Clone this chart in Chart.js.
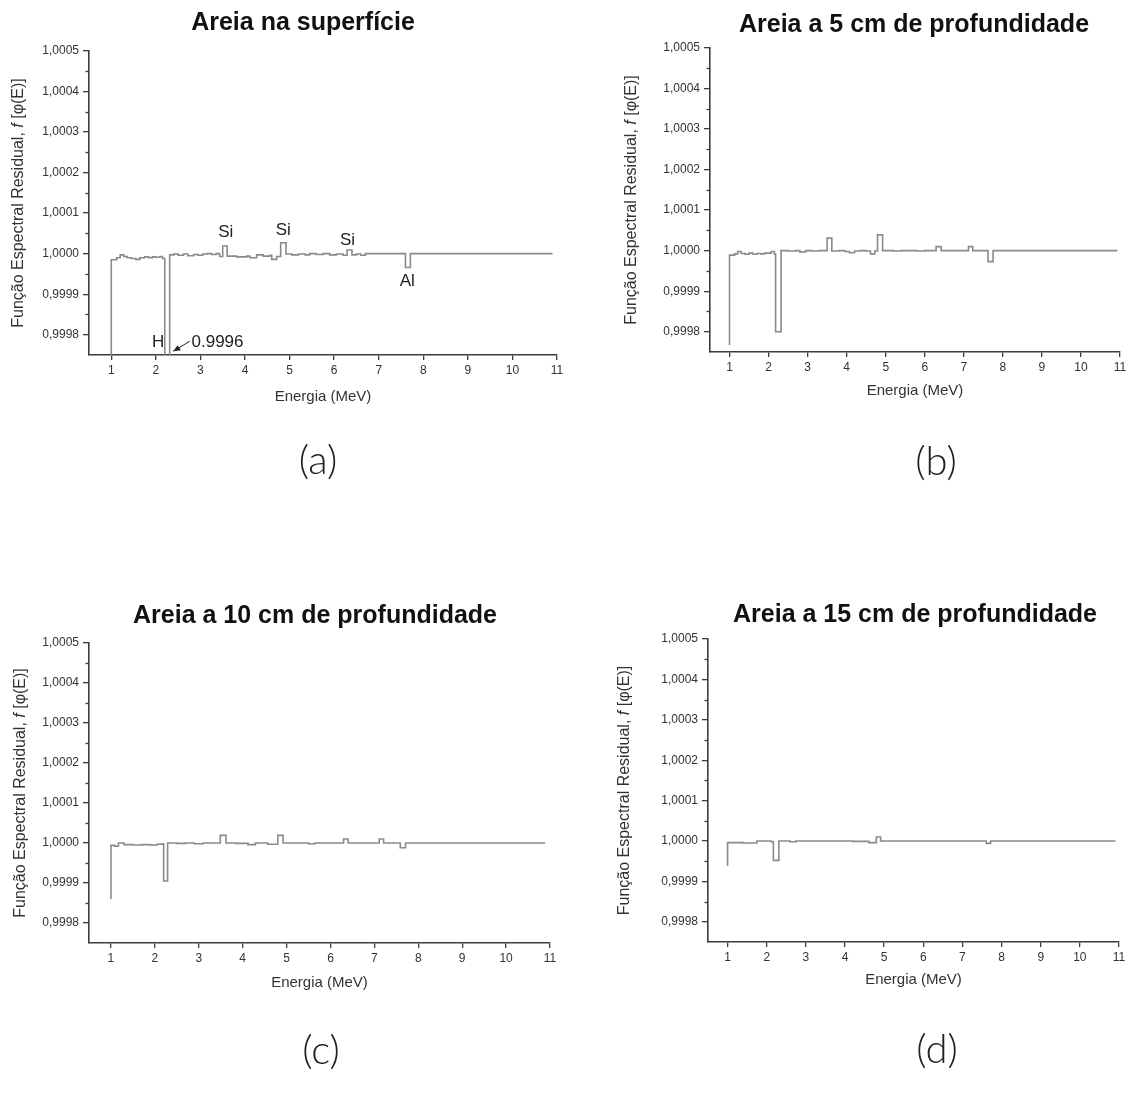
<!DOCTYPE html>
<html>
<head>
<meta charset="utf-8">
<script src="https://cdn.jsdelivr.net/npm/chart.js@4.4.1/dist/chart.umd.min.js"></script>
<style>
  html, body { margin: 0; padding: 0; background: #ffffff; }
  body { width: 1132px; height: 1097px; position: relative; overflow: hidden; }
  canvas { position: absolute; }
</style>
</head>
<body>
<canvas id="ca" width="566" height="560" style="left:0px;top:0px"></canvas>
<canvas id="cb" width="566" height="560" style="left:566px;top:0px"></canvas>
<canvas id="cc" width="566" height="537" style="left:0px;top:560px"></canvas>
<canvas id="cd" width="566" height="537" style="left:566px;top:560px"></canvas>
<script>
// ---------- tick labels ----------
const xTickValues = [1, 2, 3, 4, 5, 6, 7, 8, 9, 10, 11];
const yTickValues = [0.9998, 0.9999, 1.0000, 1.0001, 1.0002, 1.0003, 1.0004, 1.0005];
const yMinorValues = [0.99985, 0.99995, 1.00005, 1.00015, 1.00025, 1.00035, 1.00045];

// ---------- titles ----------
const panelTitles = ['Areia na superfície', 'Areia a 5 cm de profundidade', 'Areia a 10 cm de profundidade', 'Areia a 15 cm de profundidade'];
const panelLetters = ['(a)', '(b)', '(c)', '(d)'];
const xAxisTitle = 'Energia (MeV)';
const yAxisTitleParts = ['Função Espectral Residual, ', 'f', ' [φ(E)]'];

// ---------- series: step start energy (MeV) and value holding from that energy ----------
const energiesA = [1.00, 1.00, 1.12, 1.20, 1.28, 1.36, 1.45, 1.55, 1.64, 1.75, 1.84, 1.92, 2.00, 2.09, 2.15,
  2.20, 2.31, 2.40, 2.50, 2.62, 2.72, 2.85, 2.95, 3.05, 3.15, 3.25, 3.35, 3.43, 3.50, 3.60, 3.81,
  4.04, 4.11, 4.26, 4.41, 4.56, 4.60, 4.71, 4.80, 4.92, 5.05, 5.20, 5.35, 5.45, 5.60, 5.75, 5.90,
  6.05, 6.20, 6.29, 6.40, 6.50, 6.60, 6.70, 7.60, 7.71, 10.90];
const valuesA = [0.99970, 0.999985, 0.999990, 0.999997, 0.999993, 0.999990, 0.999988, 0.999986, 0.999990, 0.999992, 0.999990, 0.999992, 0.999991, 0.999993, 0.999988,
  0.99960, 0.999997, 0.999999, 0.999996, 0.999999, 0.999995, 0.999998, 0.999996, 0.999999, 1.000000, 0.999998, 1.000000, 0.999993, 1.000019, 0.999994, 0.999992,
  0.999994, 0.999990, 0.999997, 0.999994, 0.999996, 0.999986, 0.999993, 1.000027, 0.999999, 0.999997, 0.999999, 0.999997, 1.000000, 0.999998, 1.000000, 0.999997,
  0.999999, 0.999996, 1.000009, 0.999997, 0.999999, 0.999996, 1.000000, 0.999966, 1.000000, 1.000000];

const energiesB = [1.00, 1.00, 1.13, 1.21, 1.30, 1.40, 1.50, 1.60, 1.70, 1.80, 1.90, 2.07, 2.15, 2.18, 2.32,
  2.50, 2.70, 2.80, 2.95, 3.10, 3.30, 3.50, 3.62, 3.80, 3.95, 4.07, 4.20, 4.35, 4.50, 4.61, 4.72,
  4.79, 4.92, 5.20, 5.40, 5.80, 6.00, 6.29, 6.42, 7.12, 7.23, 7.62, 7.75, 10.93];
const valuesB = [0.999767, 0.999989, 0.999992, 0.999998, 0.999993, 0.999991, 0.999994, 0.999991, 0.999993, 0.999992, 0.999994, 0.999998, 0.999991, 0.999800, 1.000000,
  0.999999, 1.000000, 0.999997, 1.000000, 0.999999, 1.000000, 1.000031, 0.999999, 1.000000, 0.999998, 0.999995, 0.999999, 1.000000, 0.999999, 0.999992, 0.999999,
  1.000039, 1.000000, 0.999999, 1.000000, 0.999999, 1.000000, 1.000010, 1.000000, 1.000010, 1.000000, 0.999973, 1.000000, 1.000000];

const energiesC = [1.00, 1.00, 1.09, 1.17, 1.30, 1.50, 1.70, 1.90, 2.05, 2.17, 2.20, 2.29, 2.50, 2.70, 2.90,
  3.10, 3.49, 3.62, 3.85, 4.12, 4.29, 4.57, 4.80, 4.92, 5.50, 5.65, 6.30, 6.40, 7.11, 7.21, 7.59, 7.71, 10.89];
const valuesC = [0.99986, 0.999994, 0.999992, 1.000000, 0.999996, 0.999995, 0.999996, 0.999995, 0.999997, 0.999998, 0.999905, 1.000000, 0.999999, 1.000000, 0.999998,
  1.000000, 1.000019, 1.000000, 0.999999, 0.999996, 1.000000, 0.999997, 1.000019, 1.000000, 0.999998, 1.000000, 1.000010, 1.000000, 1.000010, 1.000000, 0.999988, 1.000000, 1.000000];

const energiesD = [1.00, 1.00, 1.40, 1.75, 2.12, 2.17, 2.31, 2.60, 2.75, 4.20, 4.61, 4.80, 4.91, 7.61, 7.72, 10.91];
const valuesD = [0.999938, 0.999996, 0.999995, 1.000000, 0.999998, 0.999952, 1.000000, 0.999998, 1.000000, 0.999999, 0.999996, 1.000010, 1.000000, 0.999994, 1.000000, 1.000000];

// ---------- annotations of panel (a) ----------
const annTexts = ['Si', 'Si', 'Si', 'Al', 'H'];
const annEnergies = [3.57, 4.86, 6.30, 7.64, 2.05];
const annValues = [1.000052, 1.000058, 1.000034, 0.999932, 0.999781];
const noteText = '0.9996';
const noteEnergy = 2.80;
const noteValue = 0.999781;
const arrowFrom = [2.76, 0.999784];
const arrowTo = [2.39, 0.999759];

// ---------- styling ----------
const FONT = '"Liberation Sans", Arial, Helvetica, sans-serif';
const axisColor = '#3c3c3c';
const tickColor = '#333333';
const lineColor = '#8a8a8a';

const layouts = [
  { id: 'ca', W: 566, H: 560, left: 89, right: 557, top: 51, bottom: 355, yTitleX: 19, xTitleY: 397, titleX: 303, titleY: 30, letterX: 318, letterY: 461 },
  { id: 'cb', W: 566, H: 560, left: 144, right: 554, top: 48, bottom: 352, yTitleX: 66, xTitleY: 391, titleX: 348, titleY: 32, letterX: 370, letterY: 462 },
  { id: 'cc', W: 566, H: 537, left: 89, right: 550, top: 83, bottom: 383, yTitleX: 21, xTitleY: 423, titleX: 315, titleY: 63, letterX: 321, letterY: 491 },
  { id: 'cd', W: 566, H: 537, left: 142, right: 553, top: 79, bottom: 382, yTitleX: 59, xTitleY: 420, titleX: 349, titleY: 62, letterX: 371, letterY: 490 }
];

const seriesE = [energiesA, energiesB, energiesC, energiesD];
const seriesV = [valuesA, valuesB, valuesC, valuesD];

function makeDecor(idx, g) {
  return {
    id: 'decor' + idx,
    afterDraw(chart) {
      const ctx = chart.ctx;
      const xs = chart.scales.x, ys = chart.scales.y;
      const ca = chart.chartArea;
      ctx.save();
      // minor y ticks
      ctx.strokeStyle = axisColor;
      ctx.lineWidth = 1.3;
      yMinorValues.forEach(v => {
        const py = Math.round(ys.getPixelForValue(v)) + 0.5;
        ctx.beginPath();
        ctx.moveTo(ca.left - 3.5, py);
        ctx.lineTo(ca.left, py);
        ctx.stroke();
      });
      // y axis title with italic f
      ctx.save();
      ctx.translate(g.yTitleX, (ca.top + ca.bottom) / 2);
      ctx.rotate(-Math.PI / 2);
      ctx.fillStyle = '#333333';
      ctx.textBaseline = 'middle';
      ctx.textAlign = 'left';
      const fonts = ['16px ' + FONT, 'italic 16px ' + FONT, '16px ' + FONT];
      let total = 0;
      const widths = yAxisTitleParts.map((t, i) => { ctx.font = fonts[i]; const w = ctx.measureText(t).width; total += w; return w; });
      let cx = -total / 2;
      yAxisTitleParts.forEach((t, i) => { ctx.font = fonts[i]; ctx.fillText(t, cx, 0); cx += widths[i]; });
      ctx.restore();
      // panel title
      ctx.fillStyle = '#111111';
      ctx.font = 'bold 25px ' + FONT;
      ctx.textAlign = 'center';
      ctx.textBaseline = 'alphabetic';
      ctx.fillText(panelTitles[idx], g.titleX, g.titleY);
      // panel letter
      ctx.fillStyle = '#222222';
      ctx.font = '300 40px Lato, "Open Sans", ' + FONT;
      ctx.textBaseline = 'middle';
      ctx.fillText(panelLetters[idx], g.letterX, g.letterY);
      // annotations (panel a only)
      if (idx === 0) {
        ctx.fillStyle = '#222222';
        ctx.font = '17px ' + FONT;
        ctx.textAlign = 'center';
        ctx.textBaseline = 'middle';
        annTexts.forEach((t, i) => {
          ctx.fillText(t, xs.getPixelForValue(annEnergies[i]), ys.getPixelForValue(annValues[i]));
        });
        ctx.textAlign = 'left';
        ctx.fillText(noteText, xs.getPixelForValue(noteEnergy), ys.getPixelForValue(noteValue));
        const x1 = xs.getPixelForValue(arrowFrom[0]), y1 = ys.getPixelForValue(arrowFrom[1]);
        const x2 = xs.getPixelForValue(arrowTo[0]), y2 = ys.getPixelForValue(arrowTo[1]);
        ctx.strokeStyle = '#222222';
        ctx.lineWidth = 1;
        ctx.beginPath();
        ctx.moveTo(x1, y1);
        ctx.lineTo(x2, y2);
        ctx.stroke();
        const ang = Math.atan2(y2 - y1, x2 - x1);
        const L = 7, Wd = 3;
        ctx.beginPath();
        ctx.moveTo(x2, y2);
        ctx.lineTo(x2 - L * Math.cos(ang) + Wd * Math.sin(ang), y2 - L * Math.sin(ang) - Wd * Math.cos(ang));
        ctx.lineTo(x2 - L * Math.cos(ang) - Wd * Math.sin(ang), y2 - L * Math.sin(ang) + Wd * Math.cos(ang));
        ctx.closePath();
        ctx.fill();
      }
      ctx.restore();
    }
  };
}

layouts.forEach((g, idx) => {
  const E = seriesE[idx], V = seriesV[idx];
  const pts = E.map((e, i) => ({ x: e, y: V[i] }));
  new Chart(document.getElementById(g.id), {
    type: 'line',
    data: {
      datasets: [{
        data: pts,
        stepped: 'before',
        borderColor: lineColor,
        borderWidth: 1.6,
        pointRadius: 0,
        fill: false
      }]
    },
    options: {
      responsive: false,
      animation: false,
      events: [],
      layout: { padding: { left: 0, top: g.top, right: g.W - g.right, bottom: 0 } },
      plugins: { legend: { display: false }, tooltip: { enabled: false }, title: { display: false } },
      scales: {
        x: {
          type: 'linear',
          min: 0.5,
          max: 11,
          afterBuildTicks: s => { s.ticks = xTickValues.map(v => ({ value: v })); },
          afterFit: s => { s.height = g.H - g.bottom; s.paddingLeft = 0; s.paddingRight = 0; },
          grid: { display: true, drawOnChartArea: false, drawTicks: true, tickLength: 5, color: axisColor, lineWidth: 1.3 },
          border: { display: true, color: axisColor, width: 1.6 },
          ticks: { color: tickColor, font: { family: FONT, size: 12 }, padding: 3, maxRotation: 0, autoSkip: false,
                   callback: v => String(v) },
          title: { display: true, text: xAxisTitle, color: '#333333', font: { family: FONT, size: 15 },
                   padding: { top: 0, bottom: (g.H - g.xTitleY) - 9 } }
        },
        y: {
          type: 'linear',
          min: 0.99975,
          max: 1.0005,
          afterBuildTicks: s => { s.ticks = yTickValues.map(v => ({ value: v })); },
          afterFit: s => { s.width = g.left; s.paddingTop = 0; s.paddingBottom = 0; },
          grid: { display: true, drawOnChartArea: false, drawTicks: true, tickLength: 6, color: axisColor, lineWidth: 1.3 },
          border: { display: true, color: axisColor, width: 1.6 },
          ticks: { color: tickColor, font: { family: FONT, size: 12 }, padding: 4, autoSkip: false,
                   callback: v => Number(v).toFixed(4).replace('.', ',') },
          title: { display: false }
        }
      }
    },
    plugins: [makeDecor(idx, g)]
  });
});
</script>
</body>
</html>
